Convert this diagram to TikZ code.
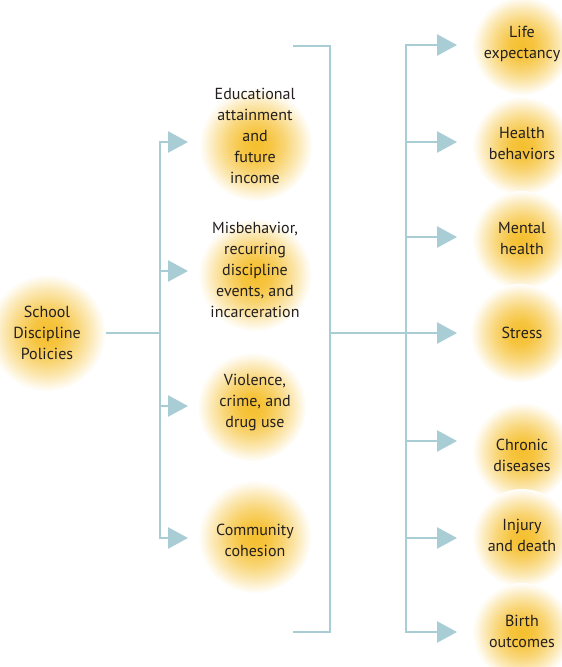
\documentclass[tikz,border=0pt]{standalone}
\usepackage{fontspec}
\setmainfont{PT Sans}
\usetikzlibrary{arrows.meta}
\definecolor{lnc}{HTML}{A8CDD4}
\definecolor{glowc}{HTML}{F5BF2E}
\definecolor{txtc}{HTML}{231F20}
\pgfdeclareradialshading{glowsh}{\pgfpointorigin}{color(0bp)=(glowc); color(6bp)=(glowc!92!white); color(13bp)=(glowc!65!white); color(19bp)=(glowc!35!white); color(23bp)=(glowc!12!white); color(25.5bp)=(white); color(50bp)=(white)}
\newcommand\gnode[7]{%
  \shade[shading=glowsh] (#4,#5) circle (#6);
  \node[txt] (#1) at (#2,#3) {#7};}
\begin{document}
\begin{tikzpicture}[x=1pt,y=-1pt,
  ln/.style={draw=lnc,line width=2.6pt},
  arr/.style={ln,-{Triangle[length=20pt,width=21pt]}},
  txt/.style={align=center,text=txtc,font=\fontsize{16}{21}\selectfont,inner sep=0pt}]
\useasboundingbox (0,0) rectangle (562,667);
\clip (0,0) rectangle (562,667);
% nodes
\gnode{sdp}{47}{333}{47}{333}{58}{School\\Discipline\\Policies}
\gnode{m1}{255}{135.5}{256}{145}{56}{Educational\\attainment\\and\\future\\income}
\gnode{m2}{255}{270}{255}{275}{56}{Misbehavior,\\recurring\\discipline\\events, and\\incarceration}
\gnode{m3}{255}{403}{252}{407}{54}{Violence,\\crime, and\\drug use}
\gnode{m4}{255}{540}{255}{537}{56}{Community\\cohesion}
\gnode{r1}{522}{44}{522}{46}{49}{Life\\expectancy}
\gnode{r2}{522}{143}{522}{146}{49}{Health\\behaviors}
\gnode{r3}{522}{238}{522}{240}{49}{Mental\\health}
\gnode{r4}{522}{333}{520}{333}{49}{Stress}
\gnode{r5}{522}{455}{522}{452}{49}{Chronic\\diseases}
\gnode{r6}{522}{535}{522}{538}{49}{Injury\\and death}
\gnode{r7}{522}{631}{522}{632}{49}{Birth\\outcomes}
% junctions and tips
\coordinate (sdpout) at (106,333);
\coordinate (jL) at (160,333);
\coordinate (a1) at (188,142);
\coordinate (a2) at (188,271);
\coordinate (a3) at (188,406);
\coordinate (a4) at (188,538);
\coordinate (brT) at (293,46);
\coordinate (brB) at (293,632);
\coordinate (jM) at (330,333);
\coordinate (jR) at (406,333);
\coordinate (t1) at (457,45);
\coordinate (t2) at (457,142);
\coordinate (t3) at (457,237);
\coordinate (t4) at (457,333);
\coordinate (t5) at (457,441);
\coordinate (t6) at (457,538);
\coordinate (t7) at (457,632);
% connectors
\draw[ln] (sdpout) -- (jL);
\foreach \a in {a1,a2,a3,a4} \draw[arr] (jL) |- (\a);
\draw[ln] (brT) -| (jM) |- (brB);
\draw[arr] (jM) -- (t4);
\foreach \t in {t1,t2,t3,t5,t6,t7} \draw[arr] (jR) |- (\t);
\end{tikzpicture}
\end{document}
